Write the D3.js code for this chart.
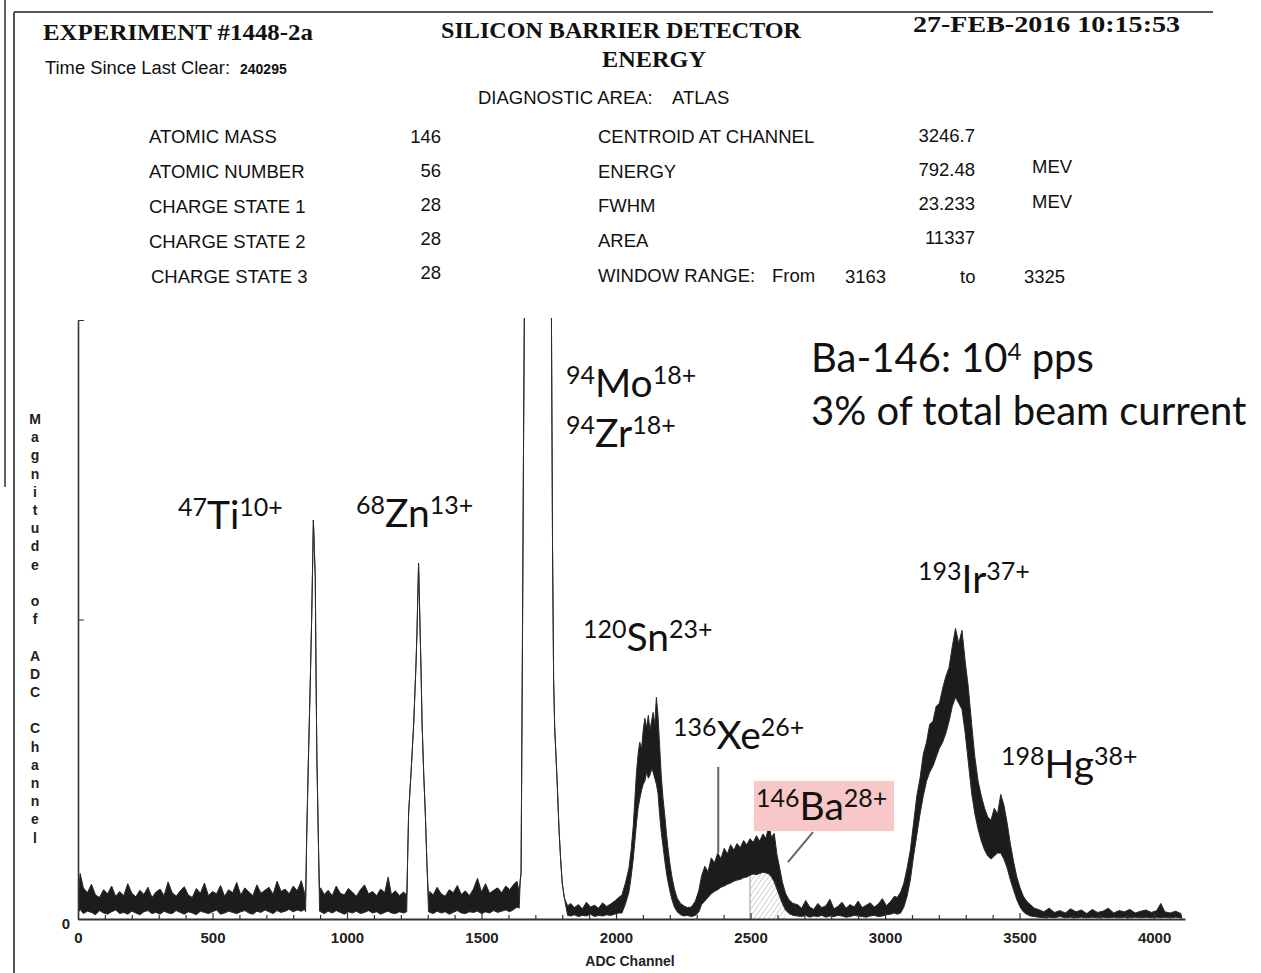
<!DOCTYPE html>
<html>
<head>
<meta charset="utf-8">
<script src="https://cdn.jsdelivr.net/npm/d3@7"></script>
<style>
  body { margin: 0; background: #fff; }
  svg { display: block; }
  .axis path, .axis line { stroke: #333; }
  .axis text { font-family: "Liberation Sans", Arial, sans-serif; font-weight: bold; font-size: 15px; fill: #222; }
</style>
</head>
<body>
<svg id="chart" width="1261" height="973"></svg>
<script>
// ---- printout header ----
const headerTitle = ['SILICON BARRIER DETECTOR', 'ENERGY'];
const experimentId = 'EXPERIMENT #1448-2a';
const printDate = '27-FEB-2016 10:15:53';
const clearTime = '240295';
const diagnosticArea = 'ATLAS';

const beamLabels = ['ATOMIC MASS', 'ATOMIC NUMBER', 'CHARGE STATE 1', 'CHARGE STATE 2', 'CHARGE STATE 3'];
const beamValues = ['146', '56', '28', '28', '28'];
const fitLabels = ['CENTROID AT CHANNEL', 'ENERGY', 'FWHM', 'AREA', 'WINDOW RANGE:'];
const fitValues = ['3246.7', '792.48', '23.233', '11337'];
const fitUnits = ['', 'MEV', 'MEV', ''];
const windowRange = ['3163', '3325'];

// ---- spectrum: [channel, low count, high count] ----
const bgA = [
  [0,1.0,3.5],[8,1.6,7.6],[20,0.9,5.2],[35,1.3,4.4],[50,1.1,5.8],[65,0.7,4.0],[80,1.4,3.6],[95,1.0,4.9],[110,0.8,4.2],[125,1.2,5.5],
  [140,1.5,3.8],[155,0.9,4.6],[170,1.1,3.9],[185,0.8,5.9],[200,1.3,4.3],[215,1.0,3.7],[230,0.7,4.8],[245,1.2,4.1],[260,1.4,5.3],[275,0.9,3.6],
  [290,1.1,4.5],[305,0.8,5.0],[320,1.3,3.9],[335,1.0,6.2],[350,0.9,4.4],[365,1.4,3.8],[380,1.1,4.7],[395,0.8,5.4],[410,1.2,4.0],[425,1.0,3.6],
  [440,0.7,5.1],[455,1.3,4.3],[470,1.1,6.0],[485,0.9,3.9],[500,1.2,4.6],[515,1.5,4.2],[530,0.8,5.6],[545,1.0,3.8],[560,1.3,4.9],[575,1.1,4.4],
  [590,0.9,6.1],[605,1.2,4.0],[620,1.4,5.2],[635,1.0,4.5],[650,0.8,3.9],[665,1.3,5.7],[680,1.1,4.3],[695,1.5,4.8],[710,1.2,5.3],[725,0.9,4.1],
  [740,1.4,6.3],[755,1.1,4.6],[770,1.3,5.0],[785,1.6,4.2],[800,1.2,5.5],[815,1.5,4.7],[830,1.3,6.4],[842,1.6,4.4]
];
const peakTi = [
  [846,1.2,3.4],[850,13.5,13.5],[857,27.7,27.7],[863,38.7,38.7],[869,51,51],[875,66.6,66.6],
  [882,57,57],[885,40,40],[888,27,27],[894,12,12],[898,1.3,4.3]
];
const bgB = [
  [902,1.2,5.2],[915,0.9,4.1],[930,1.3,4.8],[945,1.0,3.9],[960,1.4,5.5],[975,1.1,4.3],[990,0.8,4.0],[1005,1.2,5.1],[1020,1.0,4.5],[1035,1.3,3.8],
  [1050,0.9,4.9],[1065,1.1,5.7],[1080,1.4,4.2],[1095,1.0,4.6],[1110,1.2,3.9],[1125,0.8,5.0],[1140,1.1,4.4],[1153,1.3,7.0],[1165,1.0,4.1],[1180,0.9,4.7],
  [1195,1.2,3.9],[1210,1.0,4.5]
];
const peakZn = [
  [1222,1.2,4.0],[1225,9.3,9.3],[1229,17.7,17.7],[1238,24.4,24.4],[1248,32.7,32.7],[1256,42,42],[1260,47.7,47.7],[1266,59.4,59.4],
  [1270,51.6,51.6],[1275,42,42],[1279,32.7,32.7],[1285,24.4,24.4],[1291,17.7,17.7],[1297,9.3,9.3],[1303,1.2,3.7]
];
const bgC = [
  [1308,1.1,4.6],[1320,0.9,4.0],[1335,1.3,5.3],[1350,1.0,4.2],[1365,1.2,3.8],[1380,0.8,4.9],[1395,1.1,4.4],[1410,1.4,5.6],[1425,1.0,4.1],[1440,0.9,4.7],
  [1455,1.2,3.9],[1470,1.1,5.0],[1485,1.3,6.8],[1500,0.9,4.5],[1515,1.2,5.9],[1530,1.0,4.3],[1545,1.4,4.8],[1560,1.1,5.2],[1575,1.3,4.4],[1590,1.5,5.5],
  [1605,1.2,4.9],[1620,1.6,5.8],[1632,2.0,6.3]
];
const peakMoZr = [
  [1640,1.8,4.5],[1644,6.5,6.5],[1647,7.7,7.7],[1652,45,45],[1656,78,78],[1659,100,100],[1662,115,115],
  [1755,115,115],[1760,100,100],[1764,62,62],[1768,40,40],[1772,32,32],[1777,27,27],[1782,22,22],
  [1788,15,15],[1794,10,10],[1800,6,6],[1808,3.5,3.5],[1820,0.6,2.2]
];
const bgD = [
  [1832,0.5,2.6],[1845,0.7,1.9],[1860,0.4,2.4],[1875,0.6,1.7],[1890,0.5,2.8],[1905,0.8,2.0],[1920,0.4,2.3],
  [1935,0.6,1.8],[1950,0.5,2.7],[1965,0.7,2.1],[1980,0.6,2.5],[1995,0.8,3.0],[2010,1.0,3.6]
];
const peakSn = [
  [2022,1.0,4.0],[2035,2.5,6.0],[2048,4.5,8.5],[2056,7.0,11.5],[2064,10.0,15.5],[2070,13.0,20.0],[2076,16.0,24.5],
  [2082,18.5,27.5],[2088,20.0,29.5],[2095,21.5,28.5],[2101,22.5,31.5],[2107,23.0,33.5],[2114,24.5,32.0],[2120,23.5,34.0],
  [2126,24.0,31.5],[2132,25.0,33.0],[2138,24.5,34.5],[2144,23.5,32.5],[2150,22.5,37.0],[2156,21.0,34.0],[2162,17.5,29.0],
  [2168,14.5,24.0],[2175,12.0,20.0],[2182,9.5,17.0],[2188,7.5,14.0],[2194,6.0,11.5],[2201,4.5,9.0],[2208,3.2,7.0],
  [2217,2.0,5.0],[2227,1.2,3.5],[2240,0.7,2.6],[2252,0.5,2.2],[2265,0.6,1.9],[2280,0.4,2.0]
];
const peakXeBa = [
  [2295,0.6,3.0],[2308,1.2,4.8],[2318,2.4,7.2],[2330,3.0,8.8],[2342,3.6,7.9],[2354,4.2,10.2],[2366,4.6,9.4],[2378,4.9,11.0],
  [2390,5.3,10.1],[2402,5.5,11.8],[2414,5.8,10.9],[2426,6.0,12.4],[2438,6.3,11.5],[2450,6.5,12.6],[2462,6.6,11.9],[2474,6.9,13.1],
  [2486,7.0,12.4],[2498,7.3,13.4],[2510,7.5,12.8],[2522,7.4,13.9],[2534,7.6,13.0],[2546,7.8,14.2],[2558,7.7,13.5],[2568,7.5,15.8],
  [2578,7.0,13.6],[2588,6.2,14.3],[2598,5.0,10.8],[2608,3.8,8.6],[2618,2.6,6.2],[2630,1.5,4.3],[2643,0.9,3.2],[2658,0.6,2.6]
];
const bgF = [
  [2675,0.5,2.4],[2690,0.4,1.8],[2705,0.6,3.1],[2720,0.3,2.0],[2735,0.5,1.6],[2750,0.4,2.6],[2765,0.6,1.9],[2780,0.3,2.2],[2795,0.5,3.3],[2810,0.4,1.7],
  [2825,0.6,2.1],[2840,0.5,2.8],[2855,0.3,1.8],[2870,0.4,2.4],[2885,0.6,2.0],[2900,0.5,3.0],[2915,0.4,1.9],[2930,0.3,2.3],[2945,0.5,2.7],[2960,0.6,2.0],
  [2975,0.4,2.5],[2990,0.5,3.4],[3005,0.7,2.2],[3020,0.8,2.9],[3035,1.0,3.8]
];
const peakIrHg = [
  [3045,0.8,3.6],[3058,1.0,4.5],[3070,2.0,6.0],[3082,3.8,8.5],[3094,6.5,11.5],[3106,10.5,16.0],[3118,14.0,20.5],[3130,17.5,23.5],
  [3142,20.5,27.5],[3154,23.0,29.5],[3166,24.5,32.5],[3178,25.5,33.0],[3190,27.0,35.5],[3202,28.5,36.0],[3214,29.5,38.5],[3226,31.0,40.5],
  [3238,33.0,42.0],[3250,35.5,45.5],[3262,37.0,48.5],[3274,36.0,46.0],[3286,35.0,48.2],[3298,31.0,43.0],[3310,26.0,38.5],[3322,21.0,32.5],
  [3334,17.5,27.0],[3346,15.0,23.0],[3358,13.0,20.5],[3370,11.5,18.5],[3382,10.5,17.0],[3394,10.0,16.5],[3406,10.5,18.5],[3418,11.0,17.5],
  [3430,11.0,20.8],[3442,10.0,19.0],[3454,8.5,16.0],[3466,6.5,12.5],[3478,4.8,9.5],[3490,3.2,7.0],[3502,2.0,5.2],[3514,1.2,3.8],
  [3526,0.8,3.0],[3540,0.5,2.4],[3555,0.4,1.8]
];
const bgG = [
  [3570,0.3,1.6],[3590,0.2,1.2],[3610,0.3,1.8],[3630,0.2,1.1],[3650,0.4,1.4],[3670,0.2,1.0],[3690,0.3,1.7],[3710,0.2,1.2],[3730,0.3,1.5],[3750,0.2,0.9],
  [3770,0.3,1.6],[3790,0.2,1.1],[3810,0.3,1.3],[3830,0.2,1.8],[3850,0.3,1.0],[3870,0.2,1.4],[3890,0.3,1.2],[3910,0.2,1.6],[3930,0.3,1.0],[3950,0.2,1.3],
  [3970,0.3,1.5],[3990,0.2,1.1],[4010,0.3,1.4],[4025,0.2,2.6],[4040,0.3,1.2],[4060,0.2,1.0],[4080,0.3,1.3],[4100,0.2,0.9]
];

// hatched integration window under the Ba peak, and the pointer lines
const baWindow = [2498, 2630];
const xeMarker = [[2380, 25.4], [2380, 11]];
const baMarker = [[2732, 14.5], [2639, 9.5]];

const xTicks = d3.range(0, 4101, 100);
const xLabels = [0, 500, 1000, 1500, 2000, 2500, 3000, 3500, 4000];
const yTicks = [0, 50, 100];
const yTitle = 'Magnitude of ADC Channel';

const isoMass = ['47', '68', '94', '94', '120', '136', '146', '193', '198'];
const isoElement = ['Ti', 'Zn', 'Mo', 'Zr', 'Sn', 'Xe', 'Ba', 'Ir', 'Hg'];
const isoCharge = ['10+', '13+', '18+', '18+', '23+', '26+', '28+', '37+', '38+'];
const noteLines = ['Ba-146: 10', '4', ' pps', '3% of total beam current'];

// ---- layout ----
const svg = d3.select('#chart');
const sans = '"Liberation Sans", Arial, sans-serif';
const serif = '"Liberation Serif", "Times New Roman", serif';
const calib = 'Lato, "Open Sans", sans-serif';

// frame lines from the scanned page
svg.append('line').attr('x1', 14).attr('y1', 12).attr('x2', 1213).attr('y2', 12).attr('stroke', '#555').attr('stroke-width', 2);
svg.append('line').attr('x1', 14).attr('y1', 12).attr('x2', 14).attr('y2', 973).attr('stroke', '#555').attr('stroke-width', 2);
svg.append('line').attr('x1', 5).attr('y1', 0).attr('x2', 5).attr('y2', 487).attr('stroke', '#666').attr('stroke-width', 2);

const head = svg.append('g').attr('fill', '#111');
head.append('text').attr('x', 43).attr('y', 40).attr('textLength', 270).attr('lengthAdjust', 'spacingAndGlyphs')
  .style('font-family', serif).style('font-weight', 'bold').style('font-size', '24px').text(experimentId);
head.append('text').attr('x', 441).attr('y', 38).attr('textLength', 360).attr('lengthAdjust', 'spacingAndGlyphs')
  .style('font-family', serif).style('font-weight', 'bold').style('font-size', '24px').text(headerTitle[0]);
head.append('text').attr('x', 602).attr('y', 67).attr('textLength', 104).attr('lengthAdjust', 'spacingAndGlyphs')
  .style('font-family', serif).style('font-weight', 'bold').style('font-size', '24px').text(headerTitle[1]);
head.append('text').attr('x', 913).attr('y', 32).attr('textLength', 267).attr('lengthAdjust', 'spacingAndGlyphs')
  .style('font-family', serif).style('font-weight', 'bold').style('font-size', '24px').text(printDate);

head.append('text').attr('x', 45).attr('y', 74).style('font-family', sans).style('font-size', '18px')
  .attr('textLength', 185).attr('lengthAdjust', 'spacingAndGlyphs').text('Time Since Last Clear:');
head.append('text').attr('x', 240).attr('y', 74).style('font-family', sans).style('font-size', '14px').style('font-weight', 'bold').text(clearTime);
head.append('text').attr('x', 478).attr('y', 104).style('font-family', sans).style('font-size', '18.5px').text('DIAGNOSTIC AREA:');
head.append('text').attr('x', 672).attr('y', 104).style('font-family', sans).style('font-size', '18.5px').text(diagnosticArea);

const rowY = [143, 178, 213, 248, 283];
beamLabels.forEach((label, i) => {
  head.append('text').attr('x', i === 4 ? 151 : 149).attr('y', rowY[i]).style('font-family', sans).style('font-size', '18.5px').text(label);
  head.append('text').attr('x', 441).attr('y', rowY[i] - i).attr('text-anchor', 'end').style('font-family', sans).style('font-size', '18.5px').text(beamValues[i]);
  head.append('text').attr('x', 598).attr('y', rowY[i] - (i > 1 ? 1 : 0)).style('font-family', sans).style('font-size', '18.5px').text(fitLabels[i]);
});
fitValues.forEach((value, i) => {
  head.append('text').attr('x', 975).attr('y', rowY[i] - 1 - i).attr('text-anchor', 'end').style('font-family', sans).style('font-size', '18.5px').text(value);
  if (fitUnits[i]) head.append('text').attr('x', 1032).attr('y', rowY[i] - 5).style('font-family', sans).style('font-size', '18.5px').text(fitUnits[i]);
});
head.append('text').attr('x', 772).attr('y', 282).style('font-family', sans).style('font-size', '18.5px').text('From');
head.append('text').attr('x', 845).attr('y', 283).style('font-family', sans).style('font-size', '18.5px').text(windowRange[0]);
head.append('text').attr('x', 960).attr('y', 283).style('font-family', sans).style('font-size', '18.5px').text('to');
head.append('text').attr('x', 1024).attr('y', 283).style('font-family', sans).style('font-size', '18.5px').text(windowRange[1]);

// ---- spectrum plot ----
const x = d3.scaleLinear().domain([0, 4115]).range([78, 1185]);
const y = d3.scaleLinear().domain([0, 100]).range([919, 320]);

const defs = svg.append('defs');
defs.append('clipPath').attr('id', 'plot-clip').append('rect').attr('x', 78).attr('y', 318).attr('width', 1110).attr('height', 601);
const hatch = defs.append('pattern').attr('id', 'hatch').attr('patternUnits', 'userSpaceOnUse')
  .attr('width', 4).attr('height', 4).attr('patternTransform', 'rotate(35)');
hatch.append('line').attr('x1', 0).attr('y1', 0).attr('x2', 0).attr('y2', 4).attr('stroke', '#999').attr('stroke-width', 0.9);

const trace = [].concat(bgA, peakTi, bgB, peakZn, bgC, peakMoZr, bgD, peakSn, peakXeBa, bgF, peakIrHg, bgG);
const plot = svg.append('g').attr('clip-path', 'url(#plot-clip)');

const windowRows = trace.filter((d) => d[0] >= baWindow[0] && d[0] <= baWindow[1]);
plot.append('path').datum(windowRows)
  .attr('d', d3.area().x((d) => x(d[0])).y0(y(0)).y1((d) => y(d[1])))
  .attr('fill', 'url(#hatch)');
plot.append('line').attr('x1', x(baWindow[0])).attr('x2', x(baWindow[0]))
  .attr('y1', y(0)).attr('y2', y(windowRows[0][1])).attr('stroke', '#999').attr('stroke-width', 1);

plot.append('path').datum(trace)
  .attr('d', d3.area().x((d) => x(d[0])).y0((d) => y(d[1])).y1((d) => y(d[2])))
  .attr('fill', '#1c1c1c').attr('stroke', '#2a2a2a').attr('stroke-width', 1).attr('stroke-linejoin', 'miter');

// axes
const xAxis = d3.axisBottom(x).tickValues(xTicks).tickSizeInner(-4).tickSizeOuter(0).tickPadding(13)
  .tickFormat((d) => (xLabels.includes(d) ? d : ''));
const gx = svg.append('g').attr('class', 'axis').attr('transform', 'translate(0,' + y(0) + ')').call(xAxis);
gx.select('.domain').attr('stroke-width', 2);
gx.selectAll('.tick line').attr('y2', (d) => (d % 500 === 0 ? -6 : -4)).attr('stroke-width', 1.2);

const yAxis = d3.axisLeft(y).tickValues(yTicks).tickSizeInner(-6).tickSizeOuter(0).tickPadding(8)
  .tickFormat((d) => (d === 0 ? '0' : ''));
const gy = svg.append('g').attr('class', 'axis').attr('transform', 'translate(' + x(0) + ',0)').call(yAxis);
gy.select('.domain').attr('stroke-width', 1.6);
gy.selectAll('.tick text').attr('dy', '0.6em');

svg.append('text').attr('x', 630).attr('y', 966).attr('text-anchor', 'middle')
  .style('font-family', sans).style('font-weight', 'bold').style('font-size', '14px').attr('fill', '#222').text('ADC Channel');

// stacked y title
const yTitleG = svg.append('g').style('font-family', sans).style('font-weight', 'bold').style('font-size', '14px').attr('fill', '#222');
yTitle.split('').forEach((ch, i) => {
  if (ch === ' ') return;
  yTitleG.append('text').attr('x', 35).attr('y', 424 + i * 18.2).attr('text-anchor', 'middle').text(ch);
});

// annotations
svg.append('line').attr('x1', x(xeMarker[0][0])).attr('y1', y(xeMarker[0][1])).attr('x2', x(xeMarker[1][0])).attr('y2', y(xeMarker[1][1]))
  .attr('stroke', '#666').attr('stroke-width', 2);
svg.append('rect').attr('x', 754).attr('y', 781).attr('width', 140).attr('height', 50).attr('fill', '#f8c7c7');
svg.append('line').attr('x1', x(baMarker[0][0])).attr('y1', y(baMarker[0][1])).attr('x2', x(baMarker[1][0])).attr('y2', y(baMarker[1][1]))
  .attr('stroke', '#666').attr('stroke-width', 2);

const labelAt = [[178, 529], [356, 527], [566, 397], [566, 447], [583, 651], [673, 749], [756, 820], [918, 593], [1001, 778]];
isoElement.forEach((el, i) => {
  const t = svg.append('text').attr('x', labelAt[i][0]).attr('y', labelAt[i][1])
    .style('font-family', calib).style('font-size', '39px').attr('fill', '#111');
  t.append('tspan').style('font-size', '25px').attr('dy', -13).text(isoMass[i]);
  t.append('tspan').attr('dy', 13).text(el);
  t.append('tspan').style('font-size', '25px').attr('dy', -13).text(isoCharge[i]);
});

const note = svg.append('g').style('font-family', calib).style('font-size', '40px').attr('fill', '#111');
const n1 = note.append('text').attr('x', 811).attr('y', 372);
n1.append('tspan').text(noteLines[0]);
n1.append('tspan').style('font-size', '24px').attr('dy', -12).text(noteLines[1]);
n1.append('tspan').attr('dy', 12).text(noteLines[2]);
note.append('text').attr('x', 811).attr('y', 425).text(noteLines[3]);
</script>
</body>
</html>
